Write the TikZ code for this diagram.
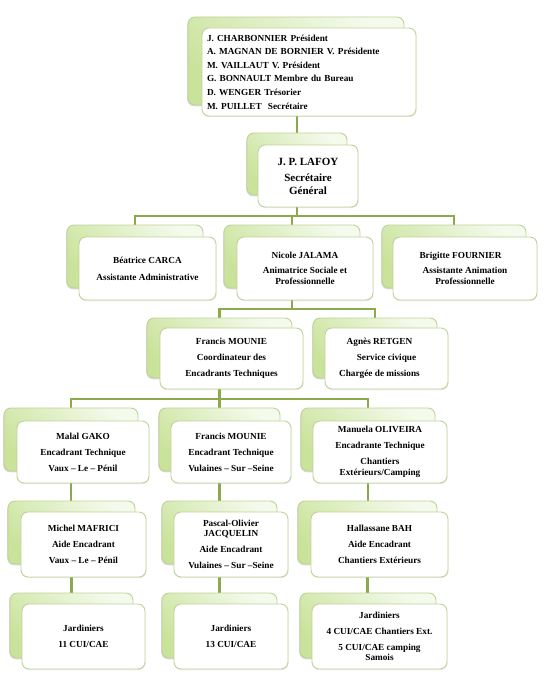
\documentclass[tikz,border=0pt]{standalone}
\usepackage{fontspec}
\setmainfont{Liberation Serif}
\usetikzlibrary{shadows,backgrounds}
\definecolor{conncol}{RGB}{140,170,75}
\definecolor{boxline}{RGB}{192,210,152}
\definecolor{gD}{RGB}{202,227,155}
\definecolor{gL}{RGB}{244,250,236}
\tikzset{
 backbox/.style={draw=boxline, line width=0.9pt, rounded corners=7pt, top color=gL, bottom color=gD, shading angle=-45,
   drop shadow={shadow xshift=-0.8pt, shadow yshift=-1.3pt, opacity=0.3}, inner sep=0pt, outer sep=0pt},
 frontbox/.style={draw=boxline, line width=0.9pt, rounded corners=7pt, fill=white,
   drop shadow={shadow xshift=0.4pt, shadow yshift=-1pt, opacity=0.18}, align=center, inner sep=2pt, outer sep=0pt,
   font=\bfseries\fontsize{9.25}{10.5}\selectfont},
 conn/.style={draw=conncol, line width=2.2pt},
}
\newcommand{\pg}{\\[5.5pt]}
\newcommand{\myleftshift}[2]{#2\hspace*{#1}}
\begin{document}
\begin{tikzpicture}[x=1pt,y=-1pt]
\useasboundingbox (0,0) rectangle (543,674);
% top
\node[backbox, minimum width=216pt, minimum height=88pt] (topB) at (296,61) {};
\node[frontbox, minimum width=214pt, minimum height=88pt, inner xsep=5pt, text width=204pt, align=left,
  font=\bfseries\fontsize{9.25}{13.6}\selectfont] (top) at (309,72)
 {J. CHARBONNIER Président\\
  A. MAGNAN DE BORNIER V. Présidente\\
  M. VAILLAUT V. Président\\
  G. BONNAULT Membre du Bureau\\
  D. WENGER Trésorier\\
  M. PUILLET\ \ Secrétaire};
% secretaire general
\node[backbox, minimum width=100pt, minimum height=62pt] (lafB) at (297,164) {};
\node[frontbox, minimum width=100pt, minimum height=62pt, font=\bfseries\fontsize{11}{13}\selectfont] (laf) at (308,176)
 {J. P. LAFOY\\[3pt] Secrétaire\\ Général};
% level 2
\node[backbox, minimum width=136pt, minimum height=63pt] (beaB) at (135,256.5) {};
\node[frontbox, minimum width=137pt, minimum height=63pt] (bea) at (147.5,268.5)
 {Béatrice CARCA\\[6.5pt] Assistante Administrative};
\node[backbox, minimum width=136pt, minimum height=63pt] (nicB) at (292,256.5) {};
\node[frontbox, minimum width=136pt, minimum height=63pt] (nic) at (305,268.5)
 {Nicole JALAMA\\[4.5pt] Animatrice Sociale et\\ Professionnelle};
\node[backbox, minimum width=144pt, minimum height=63pt] (briB) at (454,256.5) {};
\node[frontbox, minimum width=144pt, minimum height=63pt] (bri) at (465,268.5)
 {\myleftshift{9pt}{Brigitte FOURNIER}\\[4.5pt] \myleftshift{9pt}{Assistante Animation}\\ Professionnelle};
% level 3
\node[backbox, minimum width=145pt, minimum height=60pt] (fraB) at (219.5,348) {};
\node[frontbox, minimum width=143pt, minimum height=61pt] (fra) at (231.5,358.5)
 {Francis MOUNIE\pg Coordinateur des\pg Encadrants Techniques};
\node[backbox, minimum width=124pt, minimum height=60pt] (agnB) at (375,348) {};
\node[frontbox, minimum width=123pt, minimum height=61pt] (agn) at (386.5,358.5)
 {\myleftshift{14pt}{Agnès RETGEN}\pg \myleftshift{14pt}{Service civique}\pg \myleftshift{14pt}{Chargée de missions}};
% level 4
\node[backbox, minimum width=134pt, minimum height=63pt] (malB) at (71,439.5) {};
\node[frontbox, minimum width=132pt, minimum height=62pt] (mal) at (83,452)
 {Malal GAKO\pg Encadrant Technique\pg Vaux – Le – Pénil};
\node[backbox, minimum width=121pt, minimum height=63pt] (fr2B) at (219.5,439.5) {};
\node[frontbox, minimum width=120pt, minimum height=62pt] (fr2) at (231,452)
 {Francis MOUNIE\pg Encadrant Technique\pg Vulaines – Sur –Seine};
\node[backbox, minimum width=134pt, minimum height=63pt] (manB) at (368,439.5) {};
\node[frontbox, minimum width=134pt, minimum height=62pt] (man) at (380,452)
 {Manuela OLIVEIRA\pg Encadrante Technique\pg Chantiers\\ Extérieurs/Camping};
% level 5
\node[backbox, minimum width=127pt, minimum height=63pt] (micB) at (71.5,532.5) {};
\node[frontbox, minimum width=125pt, minimum height=65pt] (mic) at (83.5,544.5)
 {Michel MAFRICI\pg Aide Encadrant\pg Vaux – Le – Pénil};
\node[backbox, minimum width=115pt, minimum height=63pt] (pasB) at (219.5,532.5) {};
\node[frontbox, minimum width=114pt, minimum height=65pt] (pas) at (231,544.5)
 {Pascal-Olivier\\ JACQUELIN\pg Aide Encadrant\pg Vulaines – Sur –Seine};
\node[backbox, minimum width=139pt, minimum height=63pt] (halB) at (367.5,532.5) {};
\node[frontbox, minimum width=137pt, minimum height=65pt] (hal) at (379.5,544.5)
 {Hallassane BAH\pg Aide Encadrant\pg Chantiers Extérieurs};
% level 6
\node[backbox, minimum width=123pt, minimum height=65pt] (j1B) at (71.5,625.5) {};
\node[frontbox, minimum width=123pt, minimum height=65pt] (j1) at (83.5,636.5)
 {Jardiniers\pg 11 CUI/CAE};
\node[backbox, minimum width=115pt, minimum height=65pt] (j2B) at (219.5,625.5) {};
\node[frontbox, minimum width=114pt, minimum height=65pt] (j2) at (231,636.5)
 {Jardiniers\pg 13 CUI/CAE};
\node[backbox, minimum width=136pt, minimum height=65pt] (j3B) at (368,625.5) {};
\node[frontbox, minimum width=135pt, minimum height=65pt] (j3) at (379.5,636.5)
 {Jardiniers\pg 4 CUI/CAE Chantiers Ext.\pg 5 CUI/CAE camping\\ Samois};
% connectors
\coordinate (bus1) at (297,216);
\coordinate (bus2) at (0,309);
\coordinate (bus3) at (0,399);
\begin{pgfonlayer}{background}
\draw[conn] (lafB.north |- top.south) -- (lafB.north);
\draw[conn] (lafB.center |- laf.south) -- (bus1);
\draw[conn] (beaB.north) |- (briB.north |- bus1) -- (briB.north);
\draw[conn] (nicB.north) -- (nicB.north |- bus1);
\draw[conn] (nicB.center |- nic.south) -- (nicB.center |- bus2);
\draw[conn] (fraB.north) |- (agnB.north |- bus2) -- (agnB.north);
\draw[conn] (fraB.center |- fra.south) -- (fraB.center |- bus3);
\draw[conn] (malB.north) |- (manB.north |- bus3) -- (manB.north);
\draw[conn] (fr2B.north) -- (fr2B.north |- bus3);
\draw[conn] (malB.center |- mal.south) -- (malB.center |- micB.north);
\draw[conn] (fr2B.center |- fr2.south) -- (fr2B.center |- pasB.north);
\draw[conn] (manB.center |- man.south) -- (manB.center |- halB.north);
\draw[conn] (micB.center |- mic.south) -- (micB.center |- j1B.north);
\draw[conn] (pasB.center |- pas.south) -- (pasB.center |- j2B.north);
\draw[conn] (halB.center |- hal.south) -- (halB.center |- j3B.north);
\end{pgfonlayer}
\end{tikzpicture}
\end{document}
